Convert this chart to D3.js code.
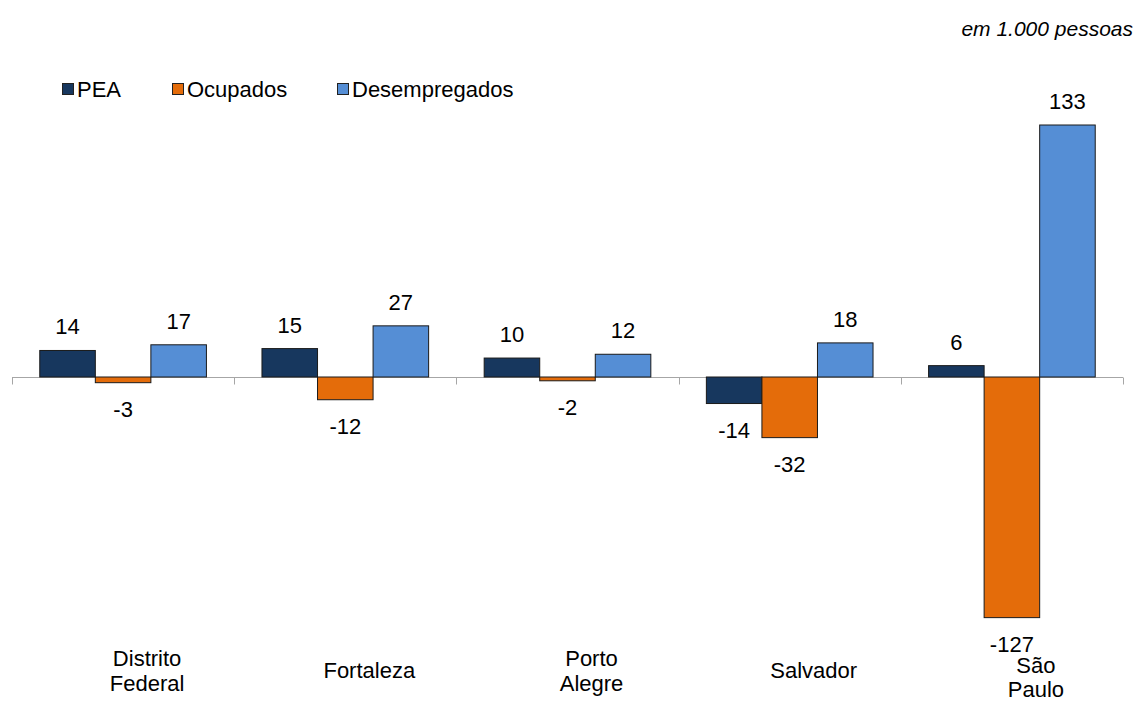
<!DOCTYPE html>
<html>
<head>
<meta charset="utf-8">
<script src="https://cdn.jsdelivr.net/npm/d3@7"></script>
<style>
  body { margin: 0; background: #fff; }
  svg { font-family: 'Liberation Sans', Arial, sans-serif; }
</style>
</head>
<body>
<div id="chart"></div>
<script>
// data
const categories = [['Distrito', 'Federal'], ['Fortaleza'], ['Porto', 'Alegre'], ['Salvador'], ['São', 'Paulo']];
const series = ['PEA', 'Ocupados', 'Desempregados'];
const pea = [14, 15, 10, -14, 6];
const ocupados = [-3, -12, -2, -32, -127];
const desempregados = [17, 27, 12, 18, 133];
const unitLabel = 'em 1.000 pessoas';

const colors = { PEA: '#17375e', Ocupados: '#e46c0a', Desempregados: '#558ed5' };
const values = { PEA: pea, Ocupados: ocupados, Desempregados: desempregados };

const width = 1137;
const height = 702;
const margin = { left: 12, right: 14 };
const zeroY = 377;
const pxPerUnit = 252 / 133;

const svg = d3.select('#chart').append('svg')
  .attr('width', width)
  .attr('height', height);

const catKeys = categories.map(c => c.join(' '));

const x0 = d3.scaleBand()
  .domain(catKeys)
  .range([margin.left, width - margin.right])
  .paddingInner(0)
  .paddingOuter(0);

const bw = x0.bandwidth();
const x1 = d3.scaleBand()
  .domain(series)
  .range([bw * 0.125, bw * 0.875]);

const yScale = d3.scaleLinear()
  .domain([-140, 140])
  .range([zeroY + 140 * pxPerUnit, zeroY - 140 * pxPerUnit]);

// unit note
svg.append('text')
  .attr('x', 1133)
  .attr('y', 36)
  .attr('text-anchor', 'end')
  .attr('font-style', 'italic')
  .attr('font-size', 21)
  .attr('fill', '#000')
  .text(unitLabel);

// legend
const legendX = [62, 172, 337];
const legend = svg.append('g').attr('class', 'legend');
series.forEach((s, i) => {
  legend.append('rect')
    .attr('x', legendX[i] + 0.5)
    .attr('y', 83.5)
    .attr('width', 11)
    .attr('height', 11)
    .attr('fill', colors[s])
    .attr('stroke', '#222')
    .attr('stroke-width', 1);
  legend.append('text')
    .attr('x', legendX[i] + 15)
    .attr('y', 97)
    .attr('font-size', 22)
    .attr('fill', '#000')
    .text(s);
});

// axis line at zero
const axis = svg.append('g')
  .attr('transform', `translate(0, ${Math.round(yScale(0)) + 0.5})`);
axis.append('line')
  .attr('x1', margin.left)
  .attr('x2', width - margin.right)
  .attr('stroke', '#a6a6a6')
  .attr('stroke-width', 1);
const ticks = catKeys.map(k => x0(k)).concat([x0.range()[1]]);
axis.selectAll('line.tick')
  .data(ticks)
  .enter().append('line')
  .attr('class', 'tick')
  .attr('x1', d => Math.round(d) + 0.5)
  .attr('x2', d => Math.round(d) + 0.5)
  .attr('y1', 0)
  .attr('y2', 7)
  .attr('stroke', '#a6a6a6');

// bars
const labelBottom = []; // lowest value label per category
const group = svg.selectAll('.group')
  .data(catKeys)
  .enter().append('g')
  .attr('class', 'group')
  .attr('transform', d => `translate(${x0(d)}, 0)`);

group.each(function (cat, ci) {
  const g = d3.select(this);
  labelBottom[ci] = 0;
  series.forEach((s) => {
    const v = values[s][ci];
    const y0 = yScale(0);
    const yv = yScale(v);
    const ty = v >= 0 ? yv - 16 : yv + 34;
    labelBottom[ci] = Math.max(labelBottom[ci], ty + 5);
    g.append('rect')
      .attr('x', x1(s))
      .attr('y', Math.min(y0, yv))
      .attr('width', x1.bandwidth())
      .attr('height', Math.abs(yv - y0))
      .attr('fill', colors[s])
      .attr('stroke', '#1a1a1a')
      .attr('stroke-width', 1);
    g.append('text')
      .attr('x', x1(s) + x1.bandwidth() / 2)
      .attr('y', ty)
      .attr('text-anchor', 'middle')
      .attr('font-size', 22)
      .attr('fill', '#000')
      .text(v);
  });
});

// category labels, low position under the plot
const labelY = 678;
const lineH = 25;
svg.selectAll('.cat')
  .data(categories)
  .enter().append('text')
  .attr('class', 'cat')
  .attr('text-anchor', 'middle')
  .attr('font-size', 22)
  .attr('fill', '#000')
  .each(function (lines, i) {
    const t = d3.select(this);
    const cx = x0(catKeys[i]) + bw / 2 + 24;
    let top = labelY - (lines.length - 1) * lineH / 2;
    let step = lineH;
    // push down when it would run into the value label above
    if (top - 16 < labelBottom[i] + 4) {
      top = labelBottom[i] + 16;
      step = 24;
    }
    lines.forEach((ln, j) => {
      t.append('tspan')
        .attr('x', cx)
        .attr('y', top + j * step)
        .text(ln);
    });
  });
</script>
</body>
</html>
